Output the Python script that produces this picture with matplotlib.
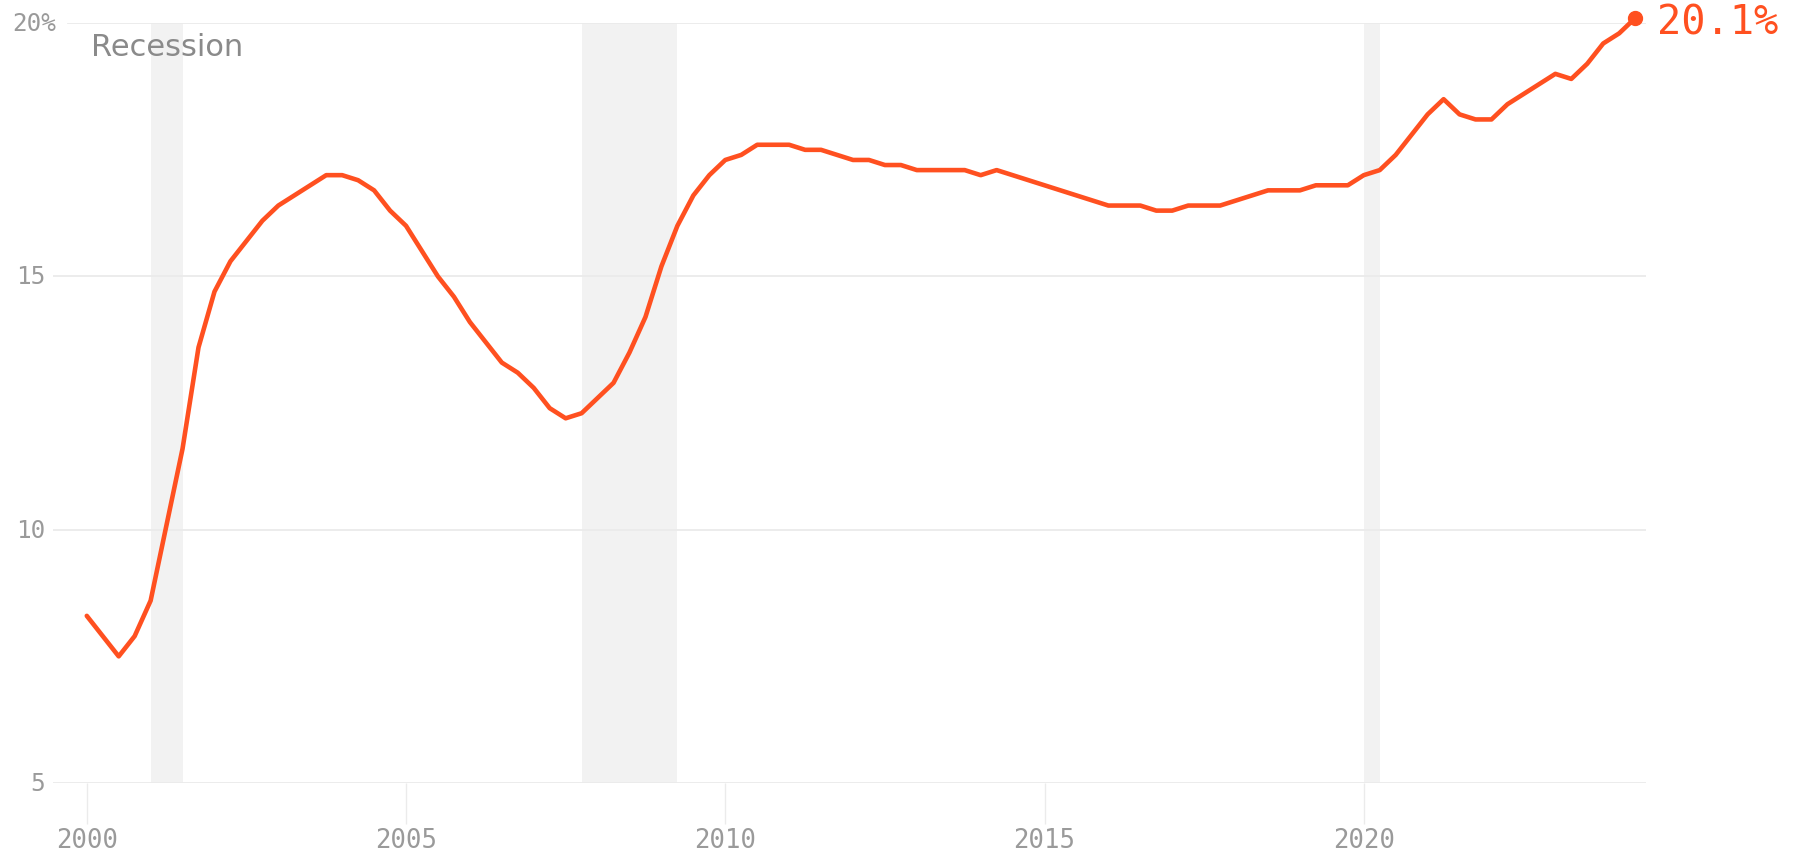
import numpy as np
import matplotlib
matplotlib.use("Agg")
import matplotlib.pyplot as plt
import matplotlib.transforms as mtransforms

# ---- data ----
start_year = 2000
values = [
    8.3, 7.9, 7.5, 7.9,      # 2000
    8.6, 10.1, 11.6, 13.6,   # 2001
    14.7, 15.3, 15.7, 16.1,  # 2002
    16.4, 16.6, 16.8, 17.0,  # 2003
    17.0, 16.9, 16.7, 16.3,  # 2004
    16.0, 15.5, 15.0, 14.6,  # 2005
    14.1, 13.7, 13.3, 13.1,  # 2006
    12.8, 12.4, 12.2, 12.3,  # 2007
    12.6, 12.9, 13.5, 14.2,  # 2008
    15.2, 16.0, 16.6, 17.0,  # 2009
    17.3, 17.4, 17.6, 17.6,  # 2010
    17.6, 17.5, 17.5, 17.4,  # 2011
    17.3, 17.3, 17.2, 17.2,  # 2012
    17.1, 17.1, 17.1, 17.1,  # 2013
    17.0, 17.1, 17.0, 16.9,  # 2014
    16.8, 16.7, 16.6, 16.5,  # 2015
    16.4, 16.4, 16.4, 16.3,  # 2016
    16.3, 16.4, 16.4, 16.4,  # 2017
    16.5, 16.6, 16.7, 16.7,  # 2018
    16.7, 16.8, 16.8, 16.8,  # 2019
    17.0, 17.1, 17.4, 17.8,  # 2020
    18.2, 18.5, 18.2, 18.1,  # 2021
    18.1, 18.4, 18.6, 18.8,  # 2022
    19.0, 18.9, 19.2, 19.6,  # 2023
    19.8, 20.1,              # 2024
]
recession_start = [2001.0, 2007.75, 2020.0]
recession_end = [2001.5, 2009.25, 2020.25]
x_ticks = [2000, 2005, 2010, 2015, 2020]
x_tick_labels = ["2000", "2005", "2010", "2015", "2020"]
y_ticks = [5, 10, 15, 20]
y_tick_labels = ["5", "10", "15", "20%"]
last_label = "20.1%"

x = start_year + np.arange(len(values)) * 0.25

# ---- style ----
LINE = "#ff5020"
GRID = "#ebebeb"
BAND = "#f2f2f2"
TICKTXT = "#9a9a9a"
MONO = "DejaVu Sans Mono"

W, H = 1805, 853
fig = plt.figure(figsize=(W / 100, H / 100), dpi=100)
left_px, right_px, top_px, bot_px = 53, 1646, 24.2, 784
ax = fig.add_axes([left_px / W, 1 - bot_px / H,
                   (right_px - left_px) / W, (bot_px - top_px) / H])
ax.set_xlim(1999.471, 2024.42)
ax.set_ylim(5, 20)
for s in ax.spines.values():
    s.set_visible(False)

# recession bands
for a, b in zip(recession_start, recession_end):
    ax.axvspan(a, b, color=BAND, lw=0, zorder=0)

# gridlines
top_start = (68 - left_px) / (right_px - left_px)
for yv in y_ticks:
    xmin = top_start if yv == 20 else 0
    ax.axhline(yv, xmin=xmin, xmax=1, color=GRID, lw=1.3, zorder=1)

# line
ax.plot(x, values, color=LINE, lw=3.3, zorder=3, clip_on=False,
        solid_joinstyle="round", solid_capstyle="round")
ax.plot([x[-1]], [values[-1]], "o", color=LINE, ms=10, zorder=4, clip_on=False)
ax.annotate(last_label, xy=(x[-1], values[-1]), xytext=(16, -3),
            textcoords="offset points", va="center", ha="left",
            color=LINE, fontsize=29, family=MONO, annotation_clip=False)

# x ticks
ax.set_xticks(x_ticks)
ax.set_xticklabels(x_tick_labels, family=MONO, fontsize=18.5, color=TICKTXT)
ax.tick_params(axis="x", length=29.5, width=1, color=GRID, pad=2)
ax.set_yticks([])

# y tick labels manual
trans = mtransforms.blended_transform_factory(fig.transFigure, ax.transData)
for yv, lab in zip(y_ticks, y_tick_labels):
    if lab.endswith("%"):
        ax.text(12 / W, yv, lab, transform=trans, ha="left", va="center",
                family=MONO, fontsize=17.5, color=TICKTXT)
    else:
        ax.text(45 / W, yv, lab, transform=trans, ha="right", va="center",
                family=MONO, fontsize=17.5, color=TICKTXT)

# Recession label
ax.text(2000.06, 1 - (56 - top_px) / (bot_px - top_px), "Recession",
        transform=mtransforms.blended_transform_factory(ax.transData, ax.transAxes),
        ha="left", va="baseline", fontsize=22, color="#8a8a8a",
        family="DejaVu Sans")

fig.savefig("out.png", dpi=100, facecolor="white")
